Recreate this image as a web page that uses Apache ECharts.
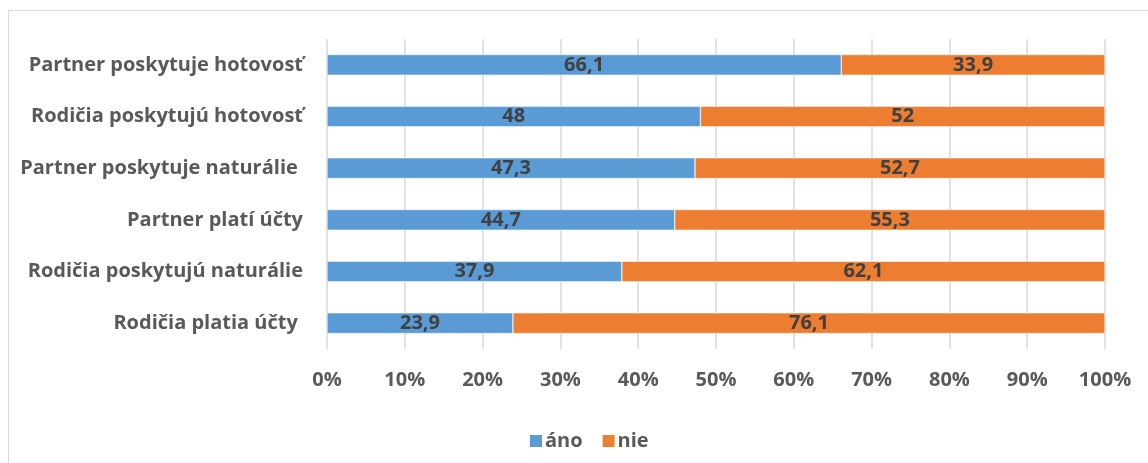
<!DOCTYPE html>
<html><head><meta charset="utf-8">
<script src="https://cdn.jsdelivr.net/npm/echarts@6/dist/echarts.min.js"></script>
<style>html,body{margin:0;padding:0;background:#fff}#c{width:1148px;height:463px}</style>
</head><body><div id="c"></div>
<script>
const categories = ['Partner poskytuje hotovosť','Rodičia poskytujú hotovosť','Partner poskytuje naturálie ','Partner platí účty','Rodičia poskytujú naturálie','Rodičia platia účty '];
const ano = [66.1, 48, 47.3, 44.7, 37.9, 23.9];
const nie = [33.9, 52, 52.7, 55.3, 62.1, 76.1];
const seriesNames = ['áno','nie'];
const xTicks = [0,10,20,30,40,50,60,70,80,90,100];

const FONT = 'Open Sans';
const FS = 20;
const chart = echarts.init(document.getElementById('c'), null, {renderer:'canvas'});
const lbl = {show:true, position:'inside', color:'#404040', fontFamily:FONT, fontWeight:'bold', fontSize:FS,
  formatter: p => String(p.value).replace('.', ',')};
chart.setOption({
  animation:false,
  graphic:[{type:'rect', shape:{x:8.5,y:10.5,width:1200,height:500}, style:{fill:'none', stroke:'#d9d9d9', lineWidth:1}, silent:true, z:-1}],
  grid:{left:327, right:43, top:39, bottom:114, containLabel:false},
  legend:{data:seriesNames, left:523, top:426, itemWidth:14, itemHeight:14, itemGap:18,
    icon:'rect', textStyle:{color:'#595959', fontFamily:FONT, fontWeight:'bold', fontSize:FS, padding:[0,0,0,-3]}},
  xAxis:{type:'value', min:0, max:100, interval:10,
    axisLine:{show:false}, axisTick:{show:false},
    splitLine:{show:true, lineStyle:{color:'#d9d9d9', width:1.5}},
    axisLabel:{formatter: v => xTicks.includes(v) ? v + '%' : '', color:'#595959', fontFamily:FONT, fontWeight:'bold', fontSize:FS, margin:21}},
  yAxis:{type:'category', data:categories, inverse:true,
    axisLine:{show:false}, axisTick:{show:false},
    axisLabel:{color:'#595959', fontFamily:FONT, fontWeight:'bold', fontSize:FS, margin:24}},
  series:[
    {name:seriesNames[0], type:'bar', stack:'s', data:ano, barCategoryGap:'60%', itemStyle:{color:'#5b9bd5', borderColor:'#ffffff', borderWidth:0.5}, label:lbl},
    {name:seriesNames[1], type:'bar', stack:'s', data:nie, barCategoryGap:'60%', itemStyle:{color:'#ed7d31', borderColor:'#ffffff', borderWidth:0.5}, label:lbl}
  ]
});
</script></body></html>
